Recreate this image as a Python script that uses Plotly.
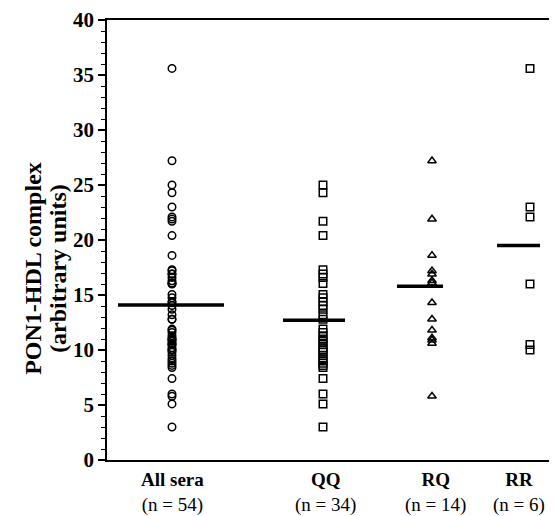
import plotly.graph_objects as go

# ---- data ----
categories = ["All sera", "QQ", "RQ", "RR"]
n_labels = ["(n = 54)", "(n = 34)", "(n = 14)", "(n = 6)"]

qq_values = [25.0, 24.3, 21.7, 20.4, 17.3, 16.9, 16.6, 16.05, 15.05, 14.75, 14.4,
             14.05, 13.7, 13.2, 12.8, 11.9, 11.6, 11.3, 11.0, 10.8, 10.5, 10.2,
             10.0, 9.8, 9.5, 9.2, 9.0, 8.8, 8.6, 8.4, 7.4, 6.0, 5.1, 3.0]
rq_values = [27.2, 21.9, 18.6, 17.2, 16.9, 16.3, 16.1, 14.3, 12.8, 11.8, 11.1,
             10.9, 10.6, 5.8]
rr_values = [35.6, 23.0, 22.1, 16.0, 10.5, 10.0]
all_values = qq_values + rq_values + rr_values

group_means = [14.1, 12.7, 15.8, 19.5]

y_ticks = [0, 5, 10, 15, 20, 25, 30, 35, 40]
y_title_lines = ["PON1-HDL complex", "(arbitrary units)"]

# ---- layout constants (x axis expressed in figure-pixel-like units) ----
# the page adds an 8px body margin, so the figure is 8px smaller than the window
W, H = 549, 508
ML, MR, MT, MB = 99, 0, 10, 56

label_x = [164, 317, 427, 511]
point_x = [164, 315, 424, 522]
mean_spans = [(110, 216), (275, 337), (389, 435), (489, 532)]
symbols = ["circle-open", "square-open", "triangle-up-open", "square-open"]
groups = [all_values, qq_values, rq_values, rr_values]

fig = go.Figure()
serif = "Liberation Serif, Times New Roman, serif"

for xc, vals, sym in zip(point_x, groups, symbols):
    fig.add_trace(go.Scatter(
        x=[xc] * len(vals), y=vals, mode="markers",
        marker=dict(symbol=sym, size=7.5, color="black",
                    line=dict(color="black", width=1.5)),
        showlegend=False, hoverinfo="y", cliponaxis=False))

for (x0, x1), m in zip(mean_spans, group_means):
    fig.add_trace(go.Scatter(
        x=[x0, x1], y=[m, m], mode="lines",
        line=dict(color="black", width=3.5),
        showlegend=False, hoverinfo="skip"))

annotations = []
# category labels: bold name over sample size, below the axis
for xc, cat, nl in zip(label_x, categories, n_labels):
    annotations.append(dict(x=xc, xref="x", y=0, yref="paper", yshift=-32,
                            yanchor="middle", text=f"<b>{cat}</b><br>{nl}",
                            showarrow=False, borderpad=0,
                            font=dict(size=19, family=serif, color="black")))

# y-axis title as two rotated lines
plot_h = H - MT - MB
title_center_px = 260
title_y_paper = (H - MB - title_center_px) / plot_h
for line_text, xpx in zip(y_title_lines, [25, 50]):
    annotations.append(dict(x=(xpx - ML) / (W - ML - MR), xref="paper",
                            y=title_y_paper, yref="paper",
                            text=f"<b>{line_text}</b>", textangle=-90,
                            showarrow=False, xanchor="center", yanchor="middle",
                            font=dict(size=24, family=serif, color="black")))

fig.update_layout(
    width=W, height=H,
    margin=dict(l=ML, r=MR, t=MT, b=MB),
    plot_bgcolor="white", paper_bgcolor="white",
    font=dict(family=serif, color="black"),
    annotations=annotations,
    xaxis=dict(range=[ML, W - MR], showgrid=False, zeroline=False,
               showline=True, linecolor="black", linewidth=1.5, mirror=True,
               showticklabels=False, ticks=""),
    yaxis=dict(range=[0, 40], showgrid=False, zeroline=False,
               showline=True, linecolor="black", linewidth=1.5,
               tickmode="array", tickvals=y_ticks,
               ticks="outside", ticklen=7, tickwidth=1.5, tickcolor="black",
               ticklabeloverflow="allow",
               minor=dict(dtick=1, ticks="outside", ticklen=4, tickwidth=1,
                          tickcolor="black"),
               tickfont=dict(size=21, family=serif, color="black", weight="bold")),
)

fig.write_html("out.html")
